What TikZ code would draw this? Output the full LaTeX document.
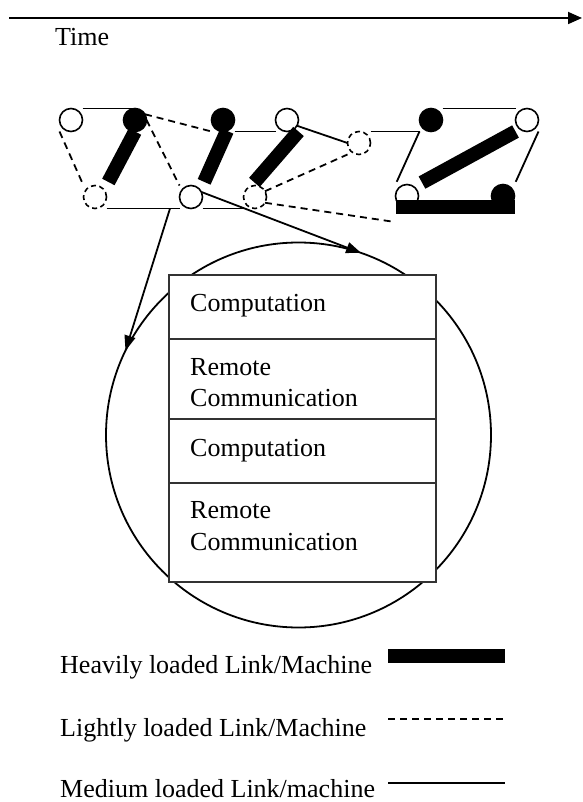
\documentclass[tikz,border=0pt]{standalone}
\usepackage{fontspec}
\setmainfont{Liberation Serif}
\usetikzlibrary{arrows.meta}

\begin{document}
\begin{tikzpicture}[x=1pt,y=-1pt,
  every node/.style={font=\fontsize{26}{31.7}\selectfont},
  machine/.style={circle, draw, line width=1.6pt, inner sep=0pt, outer sep=0pt, minimum size=23pt},
  openm/.style={machine, fill=white},
  busym/.style={machine, fill=black},
  idlem/.style={machine, fill=white, dash pattern=on 5pt off 3.5pt},
  medlink/.style={line width=1.8pt},
  lightlink/.style={line width=1.8pt, dash pattern=on 7pt off 5pt},
  heavylink/.style={line width=14pt, line cap=butt},
  pointer/.style={line width=1.8pt, -{Triangle[length=15pt,width=11pt]}},
  stage/.style={draw=black!80, line width=1.2pt, fill=white, minimum width=267pt, inner sep=0pt, outer sep=0pt},
  txt/.style={anchor=base west, inner sep=0pt}]

\useasboundingbox (0,0) rectangle (582,802);

% time axis
\coordinate (t0) at (9,18);
\coordinate (t1) at (582,18);
\draw[line width=1.8pt, -{Triangle[length=14pt,width=12pt]}] (t0) -- (t1);
\node[txt] (time) at (55,46) {Time};

% machines
\node[openm] (A) at (71,120) {};
\node[busym] (B) at (135,120) {};
\node[idlem] (C) at (95,197) {};
\node[openm] (D) at (191,197) {};
\node[busym] (E) at (223,120) {};
\node[openm] (F) at (287,120) {};
\node[idlem] (G) at (255,197) {};
\node[idlem] (H) at (359,143) {};
\node[busym] (I) at (431,120) {};
\node[openm] (J) at (527,120) {};
\node[openm] (K) at (407,196) {};
\node[busym] (L) at (503,196) {};
\coordinate (Kfoot) at (395,222);

% links
\draw[medlink] (A.north -| A.east) -- (B.north);
\draw[lightlink] (A.south -| A.west) -- (C.north -| C.west);
\draw[heavylink, shorten >=4pt] (B.south) -- (C.north -| C.east);
\draw[lightlink] (B.east) -- (D.north -| D.west);
\draw[lightlink] (B.30) -- (E.south -| E.west);
\draw[heavylink, shorten >=4pt] (E.290) -- (D.north -| D.east);
\draw[medlink] (C.south -| C.east) -- (D.south -| D.west);
\draw[medlink] (E.south -| E.east) -- (F.south -| F.west);
\draw[heavylink, shorten >=5pt] (F.south -| F.east) -- (G.110);
\draw[medlink] (D.south -| D.east) -- (G.south -| G.west);
\draw[medlink] (F.-30) -- (H.west);
\draw[lightlink] (G.30) -- (H.south -| H.west);
\draw[lightlink] (G.-30) -- (Kfoot);
\draw[medlink] (H.north -| H.east) -- (I.south -| I.west);
\draw[medlink] (I.north -| I.east) -- (J.north -| J.west);
\draw[medlink, shorten >=3pt] (I.south -| I.west) -- (K.north -| K.west);
\draw[medlink, shorten >=3pt] (J.south -| J.east) -- (L.north -| L.east);
\draw[heavylink, shorten >=4pt] (J.south -| J.west) -- (K.north -| K.east);
\draw[heavylink] (K.south -| K.west) -- (L.south -| L.east);

% zoomed machine: its work as a stack of stages
\node[circle, draw, line width=1.8pt, inner sep=0pt, outer sep=0pt, minimum size=385pt] (proc) at (298.5,435) {};
\node[stage, minimum height=64pt] (s1) at (302.5,307) {};
\node[stage, minimum height=80pt] (s2) at (302.5,379) {};
\node[stage, minimum height=64pt] (s3) at (302.5,451) {};
\node[stage, minimum height=99pt] (s4) at (302.5,532.5) {};
\node[txt] at (190,311.7) {Computation};
\node[txt] at (190,375) {Remote};
\node[txt] at (190,406.7) {Communication};
\node[txt] at (190,456) {Computation};
\node[txt] at (190,518.3) {Remote};
\node[txt] at (190,550) {Communication};

\coordinate (tap) at (170,208.5);
\draw[pointer] (tap) -- (proc.154);
\draw[pointer] (D.26) -- (proc.71);

% legend
\node[txt] (heavyL) at (60,673) {Heavily loaded Link/Machine};
\node[txt] (lightL) at (60,736) {Lightly loaded Link/Machine};
\node[txt] (medL) at (60,797) {Medium loaded Link/machine};
\draw[heavylink] (388,655.5) -- (505,655.5);
\draw[lightlink] (388,719) -- (505,719);
\draw[medlink] (388,783) -- (505,783);
\end{tikzpicture}
\end{document}
